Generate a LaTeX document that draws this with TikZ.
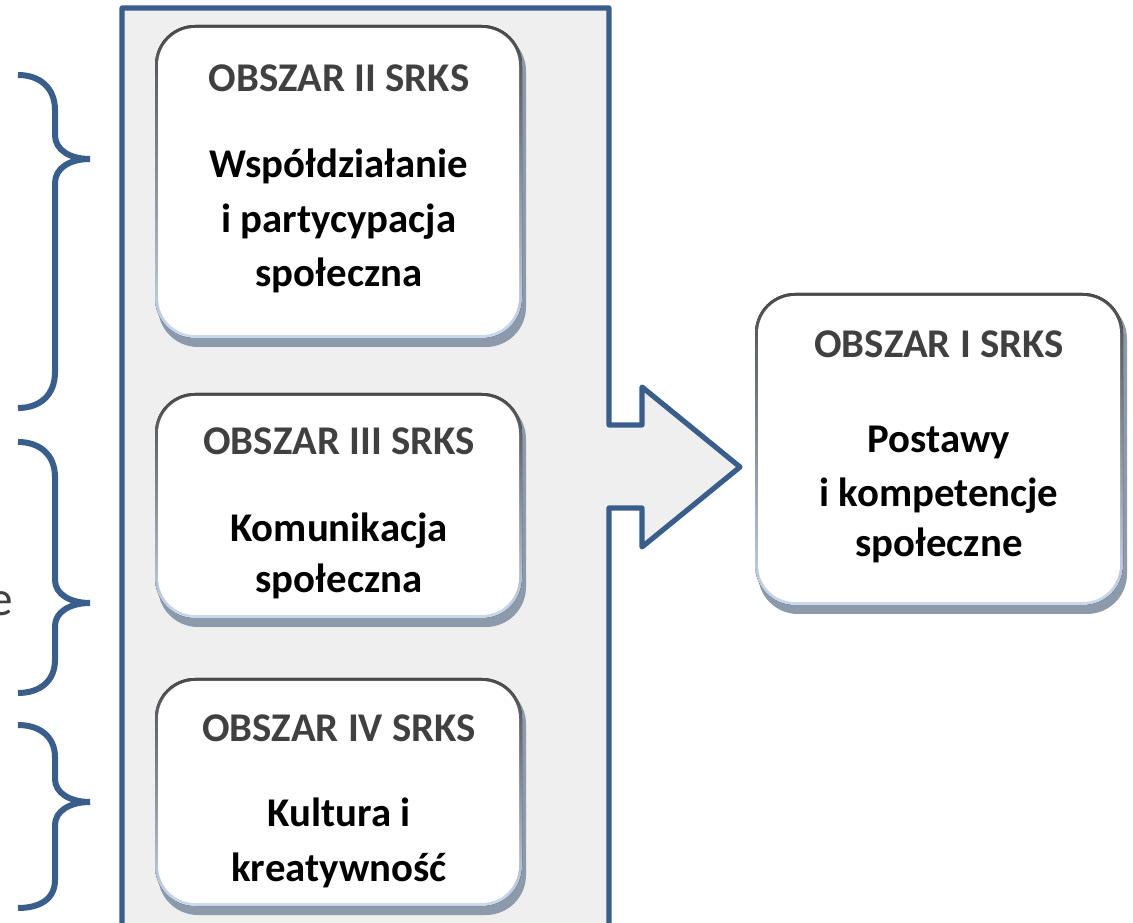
\documentclass[tikz,border=0pt]{standalone}
\usepackage{fontspec}
\setmainfont{Carlito}
\definecolor{panelblue}{HTML}{3A5E8C}
\definecolor{panelfill}{HTML}{EFEFEF}
\definecolor{titlegrey}{HTML}{404040}
\definecolor{shadowc}{HTML}{8D9AAB}
\definecolor{edgetop}{HTML}{4A4A4A}
\definecolor{edgebot}{HTML}{C9D9EF}
\newcommand\srksshape[4]{%
  \fill[shadowc, rounded corners=30pt] (#1+3,#2+6) rectangle (#3+4,#4+9);
  \fill[top color=edgetop, bottom color=edgebot, rounded corners=30pt] (#1,#2) rectangle (#3,#4);
  \fill[white, rounded corners=28pt] (#1+3,#2+3) rectangle (#3-3,#4-3);
}
\tikzset{
  titletext/.style={anchor=base, inner sep=0pt, text=titlegrey, font=\fontsize{30.6}{36}\selectfont\bfseries},
  bodytext/.style={anchor=base, inner sep=0pt, text=black, font=\fontsize{30.6}{36}\selectfont\bfseries},
  bracestyle/.style={draw=panelblue, line width=4.5pt},
}
\begin{document}
\begin{tikzpicture}[x=0.75pt, y=-0.75pt]
\useasboundingbox (0,0) rectangle (1133,923);
\clip (0,0) rectangle (1133,923);
\fill[white] (0,0) rectangle (1133,923);
% cut-off label letter
\node[anchor=base east, inner sep=0pt, text=titlegrey, font=\fontsize{37}{40}\selectfont] (cut) at (13,616) {e};
% braces
\draw[bracestyle] (18,75) .. controls (40,75) and (55,88) .. (55,110) -- (55,135) .. controls (55,150) and (70,159) .. (90,159) .. controls (70,159) and (55,168) .. (55,183) -- (55,372) .. controls (55,395) and (40,408) .. (18,408);
\draw[bracestyle] (18,442) .. controls (40,442) and (55,455) .. (55,477) -- (55,580) .. controls (55,594) and (70,603) .. (90,603) .. controls (70,603) and (55,612) .. (55,626) -- (55,660) .. controls (55,681) and (40,693) .. (18,693);
\draw[bracestyle] (18,725) .. controls (40,725) and (55,737) .. (55,757) -- (55,779) .. controls (55,793) and (70,802) .. (90,802) .. controls (70,802) and (55,811) .. (55,825) -- (55,880) .. controls (55,899) and (40,908) .. (18,908);
% panel with arrow
\draw[panelblue, line width=3.9pt, fill=panelfill, line join=round] (122,8) -- (609,8) -- (609,425) -- (642,425) -- (642,387) -- (740,467) -- (642,547) -- (642,508) -- (609,508) -- (609,945) -- (122,945) -- cycle;
% boxes
\srksshape{155}{25}{522}{338}
\srksshape{155}{393}{522}{618}
\srksshape{155}{678}{522}{906}
\srksshape{755}{293}{1123}{605}
% box II
\node[titletext] (t2) at (339,92) {OBSZAR II SRKS};
\node[bodytext] (b2a) at (339,178) {Współdziałanie};
\node[bodytext] (b2b) at (339,233) {i partycypacja};
\node[bodytext] (b2c) at (339,287) {społeczna};
% box III
\node[titletext] (t3) at (339,455) {OBSZAR III SRKS};
\node[bodytext] (b3a) at (339,542) {Komunikacja};
\node[bodytext] (b3b) at (339,593) {społeczna};
% box IV
\node[titletext] (t4) at (339,741) {OBSZAR IV SRKS};
\node[bodytext] (b4a) at (339,826) {Kultura i};
\node[bodytext] (b4b) at (339,881) {kreatywność};
% box I
\node[titletext] (t1) at (939,358) {OBSZAR I SRKS};
\node[bodytext] (b1a) at (939,453) {Postawy};
\node[bodytext] (b1b) at (939,507) {i kompetencje};
\node[bodytext] (b1c) at (939,557) {społeczne};
\end{tikzpicture}
\end{document}
